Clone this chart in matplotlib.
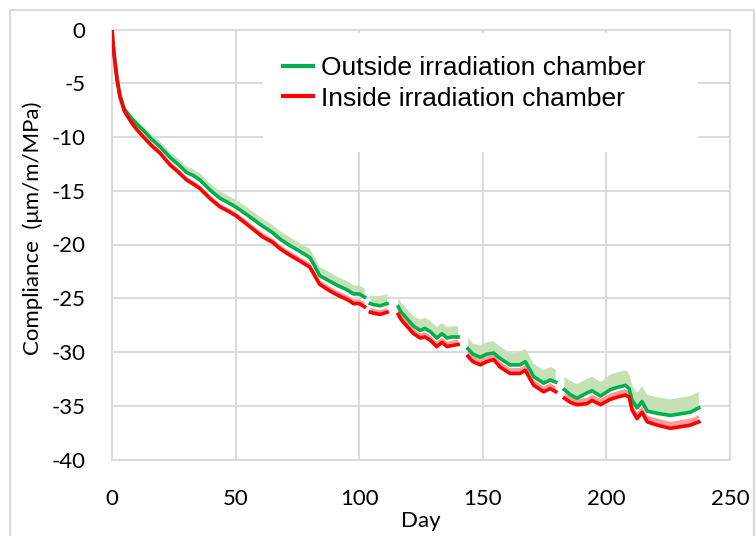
import numpy as np
import matplotlib
matplotlib.use("Agg")
import matplotlib.pyplot as plt
from matplotlib.patches import Rectangle

# values; nan marks the breaks in the record
day = [0, 0.5, 1.2, 2, 3.2, 5, 8, 10, 12.7, 16, 19.4, 23.5, 27, 30.2, 33, 35.6, 40, 43.7,
       47, 50, 55, 61, 65, 68, 72, 75, 80, 82, 84, 88, 92, 95, 97.7, 100, 102.2,
       np.nan,
       104.5, 106, 108.5, 111.3,
       np.nan,
       115.8, 117, 119.3, 122, 124.7, 126.5, 128.7, 131.4, 133.5, 135.5, 137.5, 140,
       np.nan,
       144, 146, 149, 151.5, 154.4, 157, 161, 165, 167.2, 170.6, 174.6, 177.3, 179.5,
       np.nan,
       183, 185.5, 188.1, 192.2, 194.2, 197.6, 201.6, 204.3, 207.7, 209.2, 210.4, 212.4,
       214.4, 216.5, 220.5, 225.9, 231.3, 234, 237.4]

inside = [0, -1.5, -3.1, -4.6, -6.25, -7.6, -8.7, -9.3, -10.0, -10.8, -11.5, -12.6, -13.3, -14.0,
          -14.4, -14.8, -15.8, -16.5, -16.9, -17.3, -18.2, -19.3, -19.8, -20.4, -21.0, -21.4,
          -22.1, -22.9, -23.7, -24.3, -24.8, -25.1, -25.5, -25.5, -25.8,
          np.nan,
          -26.3, -26.4, -26.5, -26.3,
          np.nan,
          -26.5, -27.0, -27.6, -28.3, -28.7, -28.6, -28.9, -29.5, -29.1, -29.5, -29.4, -29.3,
          np.nan,
          -30.4, -30.9, -31.2, -30.9, -30.7, -31.4, -32.0, -32.0, -31.7, -33.1, -33.7, -33.4, -33.7,
          np.nan,
          -34.3, -34.7, -34.9, -34.8, -34.5, -34.9, -34.4, -34.2, -34.0, -34.2, -35.4, -36.2,
          -35.6, -36.5, -36.8, -37.1, -36.9, -36.8, -36.5]

outside = [0, -1.5, -3.0, -4.5, -6.1, -7.4, -8.3, -8.8, -9.4, -10.2, -10.9, -11.9, -12.6, -13.3,
           -13.6, -14.0, -15.0, -15.7, -16.1, -16.5, -17.3, -18.3, -18.9, -19.5, -20.1, -20.5,
           -21.2, -22.0, -22.9, -23.4, -23.9, -24.2, -24.6, -24.6, -24.9,
           np.nan,
           -25.5, -25.6, -25.7, -25.5,
           np.nan,
           -25.8, -26.3, -26.9, -27.6, -28.0, -27.8, -28.1, -28.7, -28.3, -28.7, -28.6, -28.6,
           np.nan,
           -29.7, -30.2, -30.5, -30.2, -30.1, -30.6, -31.2, -31.2, -30.9, -32.3, -32.9, -32.6, -32.8,
           np.nan,
           -33.5, -34.0, -34.3, -33.8, -33.6, -34.1, -33.5, -33.3, -33.1, -33.4, -34.5, -35.2,
           -34.6, -35.5, -35.7, -35.9, -35.7, -35.6, -35.2]

# scatter envelope above each mean line
outside_spread = [0, 0, 0, 0, 0, 0.1, 0.3, 0.35, 0.4, 0.45, 0.5, 0.5, 0.55, 0.55, 0.6, 0.6, 0.6,
                  0.65, 0.65, 0.65, 0.7, 0.7, 0.7, 0.75, 0.75, 0.75, 0.8, 0.8, 0.8, 0.8, 0.8,
                  0.8, 0.8, 0.8, 0.8,
                  np.nan,
                  0.8, 0.8, 0.9, 0.9,
                  np.nan,
                  0.9, 0.9, 0.9, 0.9, 1.0, 1.0, 1.0, 1.0, 1.0, 1.0, 1.0, 1.0,
                  np.nan,
                  1.0, 1.0, 1.1, 1.1, 1.1, 1.1, 1.1, 1.2, 1.2, 1.2, 1.2, 1.2, 1.2,
                  np.nan,
                  1.2, 1.3, 1.3, 1.3, 1.3, 1.3, 1.4, 1.4, 1.4, 1.4, 1.4, 1.4,
                  1.4, 1.5, 1.5, 1.5, 1.5, 1.5, 1.5]
inside_spread = [0, 0, 0, 0, 0, 0.1, 0.2, 0.2, 0.25, 0.25, 0.3, 0.3, 0.3, 0.3, 0.3, 0.3, 0.3,
                 0.3, 0.3, 0.3, 0.35, 0.35, 0.35, 0.35, 0.35, 0.35, 0.4, 0.4, 0.4, 0.4, 0.4,
                 0.4, 0.4, 0.4, 0.4,
                 np.nan,
                 0.4, 0.4, 0.4, 0.4,
                 np.nan,
                 0.4, 0.45, 0.45, 0.45, 0.45, 0.45, 0.45, 0.45, 0.45, 0.45, 0.45, 0.45,
                 np.nan,
                 0.5, 0.5, 0.5, 0.5, 0.5, 0.5, 0.5, 0.5, 0.5, 0.5, 0.5, 0.5, 0.5,
                 np.nan,
                 0.5, 0.5, 0.5, 0.55, 0.55, 0.55, 0.55, 0.55, 0.55, 0.55, 0.55, 0.55,
                 0.55, 0.6, 0.6, 0.6, 0.6, 0.6, 0.6]

x_ticks = [0, 50, 100, 150, 200, 250]
y_ticks = [0, -5, -10, -15, -20, -25, -30, -35, -40]

day = np.array(day)
inside = np.array(inside)
outside = np.array(outside)
out_hi = outside + np.array(outside_spread)
in_hi = inside + np.array(inside_spread)

plt.rcParams["axes.unicode_minus"] = False
GRID = "#D9D9D9"
tick_font = "Lato"

fig = plt.figure(figsize=(7.56, 5.36), dpi=100)
ax = fig.add_axes([112 / 756, 1 - 459.5 / 536, 618 / 756, 430 / 536])

# outer chart frame
fig.patches.append(Rectangle((10 / 756, -0.01), 744 / 756, 1 - 10 / 536 + 0.01,
                             transform=fig.transFigure, fill=False,
                             edgecolor=GRID, linewidth=1.5))

ax.fill_between(day, outside, out_hi, color="#C5E0B4", linewidth=0, zorder=2)
ax.fill_between(day, inside, in_hi, color="#FF9B9B", linewidth=0, zorder=3)
ax.plot(day, outside, color="#00B050", linewidth=2.6, zorder=4,
        label="Outside irradiation chamber")
ax.plot(day, inside, color="#FF0000", linewidth=2.6, zorder=5,
        label="Inside irradiation chamber")

ax.set_xlim(0, 250)
ax.set_ylim(-40, 0)
ax.set_xticks(x_ticks)
ax.set_yticks(y_ticks)
ax.grid(True, color=GRID, linewidth=1.3, zorder=0)
ax.set_axisbelow(True)
for s in ax.spines.values():
    s.set_color(GRID)
    s.set_linewidth(1.3)
ax.tick_params(length=0)
ax.tick_params(axis="y", pad=19)
ax.tick_params(axis="x", pad=21)
for lab in ax.get_xticklabels() + ax.get_yticklabels():
    lab.set_fontfamily(tick_font)
    lab.set_fontsize(16)

ax.set_xlabel("Day", fontfamily=tick_font, fontsize=16)
ax.xaxis.label.set_va("center")
ax.xaxis.set_label_coords(0.5, -0.143)
ax.set_ylabel("Compliance  (\u03bcm/m/MPa)", fontfamily=tick_font, fontsize=16)
ax.yaxis.label.set_va("center")
ax.yaxis.set_label_coords(-0.128, 0.538)

# white legend area hiding the grid
ax.add_patch(Rectangle(((263 - 112) / 618, (459.5 - 152) / 430), (698 - 263) / 618,
                       (152 - 33) / 430, transform=ax.transAxes, facecolor="white",
                       edgecolor="none", zorder=1))
leg = ax.legend(loc="upper left", bbox_to_anchor=((283 - 112) / 618, (459.5 - 56) / 430),
                frameon=False, prop={"family": "Liberation Sans", "size": 19},
                handlelength=1.15, handletextpad=0.3, labelspacing=0.25,
                borderpad=0, borderaxespad=0)
for line in leg.get_lines():
    line.set_linewidth(3)

fig.savefig("out.png", dpi=100)
